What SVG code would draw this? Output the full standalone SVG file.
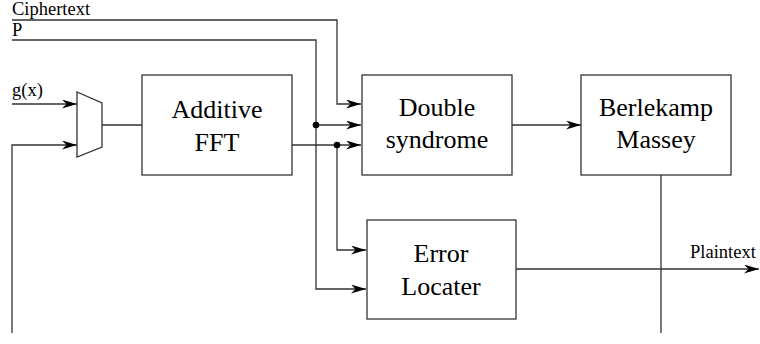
<svg xmlns="http://www.w3.org/2000/svg" width="760" height="344" viewBox="0 0 760 344">
<style>
.box{fill:#fff;stroke:#333;stroke-width:1.3}
.ln{fill:none;stroke:#333;stroke-width:1.3}
text{font-family:'Liberation Serif','Times New Roman',Times,'DejaVu Serif',serif;fill:#000}
.big{font-size:26px;text-anchor:middle}
.sm{font-size:18.5px}
</style>
<defs>
<marker id="ah" markerWidth="16" markerHeight="10" refX="15" refY="4.5" orient="auto" markerUnits="userSpaceOnUse">
<path d="M0,0 L15,4.5 L0,9 L4.5,4.5 Z" fill="#000"/>
</marker>
</defs>
<g id="connectors">
<path class="ln" d="M12,20 H337 V104 H361" marker-end="url(#ah)"/>
<path class="ln" d="M12,40 H316 V289 H366" marker-end="url(#ah)"/>
<path class="ln" d="M316,125 H361" marker-end="url(#ah)"/>
<path class="ln" d="M12,104 H77" marker-end="url(#ah)"/>
<path class="ln" d="M12,333 V145 H77" marker-end="url(#ah)"/>
<path class="ln" d="M102,125 H142"/>
<path class="ln" d="M292,145 H361" marker-end="url(#ah)"/>
<path class="ln" d="M337,145 V250 H366" marker-end="url(#ah)"/>
<path class="ln" d="M512,125 H581" marker-end="url(#ah)"/>
<path class="ln" d="M661,175 V333"/>
<path class="ln" d="M516,269 H759" marker-end="url(#ah)"/>
<circle cx="316" cy="125" r="3.3" fill="#000"/>
<circle cx="337" cy="145" r="3.3" fill="#000"/>
</g>
<g id="labels">
<text class="sm" x="12" y="15">Ciphertext</text>
<text class="sm" x="12" y="36">P</text>
<text class="sm" x="12" y="96">g(x)</text>
<text class="sm" x="690" y="258">Plaintext</text>
</g>
<g id="mux">
<path class="box" d="M77,92 L102,103 V147 L77,157 Z"/>
</g>
<g id="fft">
<rect class="box" x="142" y="75" width="150" height="100"/>
<text class="big" x="217" y="118">Additive</text>
<text class="big" x="217" y="151">FFT</text>
</g>
<g id="double">
<rect class="box" x="362" y="75" width="150" height="100"/>
<text class="big" x="437" y="116">Double</text>
<text class="big" x="437" y="148">syndrome</text>
</g>
<g id="bm">
<rect class="box" x="581" y="75" width="150" height="100"/>
<text class="big" x="656" y="116">Berlekamp</text>
<text class="big" x="656" y="148">Massey</text>
</g>
<g id="locater">
<rect class="box" x="367" y="220" width="149" height="99"/>
<text class="big" x="441" y="262">Error</text>
<text class="big" x="441" y="295">Locater</text>
</g>
</svg>
